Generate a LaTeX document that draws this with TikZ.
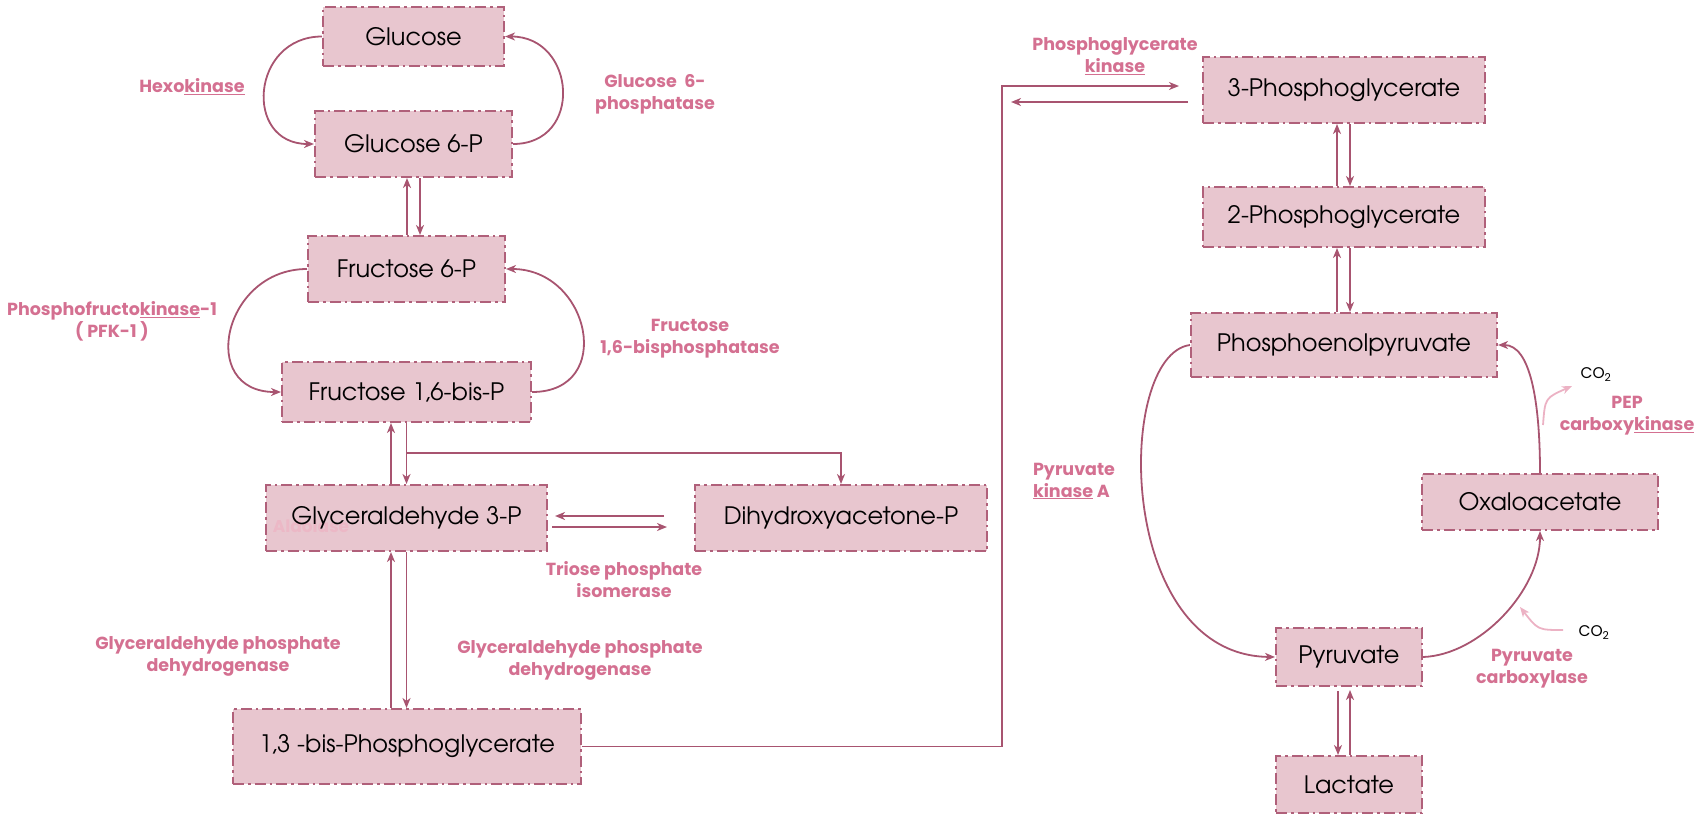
\documentclass[tikz,border=0pt]{standalone}
\usepackage{fontspec}
\setmainfont{Poppins}
\newfontfamily\gothic{TeX Gyre Adventor}
\usetikzlibrary{arrows.meta}
\definecolor{boxfill}{RGB}{232,198,207}
\definecolor{boxline}{RGB}{176,96,122}
\definecolor{conn}{RGB}{168,84,112}
\definecolor{labc}{RGB}{212,112,145}
\definecolor{lightarr}{RGB}{236,178,196}
\definecolor{ghost}{RGB}{236,184,198}
\begin{document}
\begin{tikzpicture}[x=1pt,y=-1pt,
  met/.style={draw=boxline, fill=boxfill, line width=2pt,
    dash pattern=on 11pt off 4pt on 2.5pt off 4pt, inner sep=0pt,
    font=\gothic\fontsize{24}{27}\selectfont, text=black},
  lab/.style={text=labc, font=\fontsize{17.5}{22}\selectfont\bfseries, align=center, inner sep=0pt},
  co/.style={text=black, font=\fontsize{15.5}{17}\selectfont, inner sep=0pt},
  arr/.style={draw=conn, line width=1.8pt, -{Stealth[length=10pt,width=8pt,inset=3pt]}},
  larr/.style={draw=lightarr, line width=1.8pt, -{Stealth[length=10pt,width=8pt,inset=3pt]}}]
\useasboundingbox (0,0) rectangle (1702,814);
% nodes
\node[met, minimum width=181pt, minimum height=59pt] (glc) at (413.5,36.5) {Glucose};
\node[met, minimum width=197pt, minimum height=66pt] (g6p) at (413.5,144) {Glucose 6-P};
\node[met, minimum width=197pt, minimum height=66pt] (f6p) at (406.5,269) {Fructose 6-P};
\node[met, minimum width=249pt, minimum height=60pt] (fbp) at (406.5,392) {Fructose 1,6-bis-P};
\node[met, minimum width=281pt, minimum height=66pt,
  path picture={\node[text=ghost, font=\fontsize{17}{20}\selectfont\bfseries, inner sep=0pt]
    (ald) at ([xshift=-95.5pt,yshift=-8pt]path picture bounding box.center) {Aldolase};}]
  (gap) at (406.5,518) {Glyceraldehyde 3-P};
\node[met, minimum width=292pt, minimum height=66pt] (dhap) at (841,518) {Dihydroxyacetone-P};
\node[met, minimum width=348pt, minimum height=75pt] (bpg) at (407,746.5) {1,3 -bis-Phosphoglycerate};
\node[met, minimum width=282pt, minimum height=66pt] (pg3) at (1344,90) {3-Phosphoglycerate};
\node[met, minimum width=282pt, minimum height=60pt] (pg2) at (1344,217) {2-Phosphoglycerate};
\node[met, minimum width=306pt, minimum height=64pt] (pep) at (1344,345) {Phosphoenolpyruvate};
\node[met, minimum width=236pt, minimum height=56pt] (oaa) at (1540,502) {Oxaloacetate};
\node[met, minimum width=146pt, minimum height=58pt] (pyr) at (1349,657) {Pyruvate};
\node[met, minimum width=146pt, minimum height=57pt] (lac) at (1349,784.5) {Lactate};
% labels
\node[lab] (hk) at (192,87) {Hexo\underline{kinase}};
\node[lab] (g6pase) at (655,94) {Glucose~~6-\\phosphatase};
\node[lab] (pfk) at (112,321) {Phosphofructo\underline{kinase}-1\\( PFK-1 )};
\node[lab] (fbpase) at (690,339) {Fructose\\1,6-bisphosphatase};
\node[lab] (tpi) at (624,580) {Triose phosphate\\isomerase};
\node[lab] (gapdh1) at (218,656) {Glyceraldehyde phosphate\\dehydrogenase};
\node[lab] (gapdh2) at (580,660) {Glyceraldehyde phosphate\\dehydrogenase};
\node[lab] (pgk) at (1115,56) {Phosphoglycerate\\\underline{kinase}};
\node[lab, align=left] (pk) at (1074,481) {Pyruvate\\\underline{kinase} A};
\node[lab] (pepck) at (1627,416) {PEP\\carboxy\underline{kinase}};
\node[lab] (pc) at (1532,669) {Pyruvate\\carboxylase};
\node[co] (co2a) at (1596,375) {CO\textsubscript{2}};
\node[co] (co2b) at (1594,633) {CO\textsubscript{2}};
% glucose cycle
\draw[arr] (glc.west) .. controls (251,36.5) and (243,144) .. (g6p.west);
\draw[arr] (g6p.east) .. controls (584,144) and (576,36.5) .. (glc.east);
\draw[arr] ([xshift=-6.5pt]g6p.south |- f6p.north) -- ([xshift=-6.5pt]g6p.south);
\draw[arr] ([xshift=6.5pt]g6p.south) -- ([xshift=6.5pt]g6p.south |- f6p.north);
% fructose cycle
\draw[arr] (f6p.west) .. controls (223,269) and (197,392) .. (fbp.west);
\draw[arr] (fbp.east) .. controls (616,392) and (590,269) .. (f6p.east);
% aldolase
\draw[arr] ([xshift=-15.5pt]fbp.south |- gap.north) -- ([xshift=-15.5pt]fbp.south);
\draw[arr] (fbp.south) -- (gap.north);
\coordinate (br) at (406.5,453);
\draw[arr] (br) -| (dhap.north);
% triose phosphate isomerase
\draw[arr] ([xshift=-30pt,yshift=2pt]dhap.west) -- ([xshift=7pt,yshift=2pt]gap.east);
\draw[arr] ([xshift=4pt,yshift=-9pt]gap.east) -- ([xshift=-27pt,yshift=-9pt]dhap.west);
% GAPDH
\draw[arr] ([xshift=-15.5pt]gap.south |- bpg.north) -- ([xshift=-15.5pt]gap.south);
\draw[arr] (gap.south) -- (gap.south |- bpg.north);
% to 3PG
\coordinate (kb) at (1002,86);
\coordinate (k2) at (1011,102);
\draw[arr] (bpg.east) -| (kb) -- ([xshift=-23pt,yshift=4pt]pg3.west);
\draw[arr] ([xshift=-14pt,yshift=-12pt]pg3.west) -- (k2);
% 3PG <-> 2PG <-> PEP
\draw[arr] ([xshift=-7pt]pg2.north) -- ([xshift=-7pt]pg3.south);
\draw[arr] ([xshift=6pt]pg3.south) -- ([xshift=6pt]pg2.north);
\draw[arr] ([xshift=-7pt]pep.north) -- ([xshift=-7pt]pg2.south);
\draw[arr] ([xshift=6pt]pg2.south) -- ([xshift=6pt]pep.north);
% pyruvate kinase
\draw[arr] (pep.west) .. controls (1115,355) and (1115,655) .. (pyr.west);
% pyruvate carboxylase
\draw[arr] (pyr.east) .. controls (1480,655) and (1540,590) .. (oaa.south);
% PEPCK
\draw[arr] (oaa.north) .. controls (1540,400) and (1530,345) .. (pep.east);
% CO2 arrows
\coordinate (c1s) at (1543,425);
\coordinate (c1e) at (1572,386);
\draw[larr] (c1s) .. controls (1545,398) .. (c1e);
\coordinate (c2s) at (1563,630);
\coordinate (c2e) at (1520,607);
\draw[larr] (c2s) .. controls (1538,630) .. (c2e);
% pyruvate <-> lactate
\draw[arr] ([xshift=-11pt,yshift=-4pt]pyr.south) -- ([xshift=-11pt]lac.north);
\draw[arr] ([xshift=1pt]lac.north) -- ([xshift=1pt,yshift=-3pt]pyr.south);
\end{tikzpicture}
\end{document}
